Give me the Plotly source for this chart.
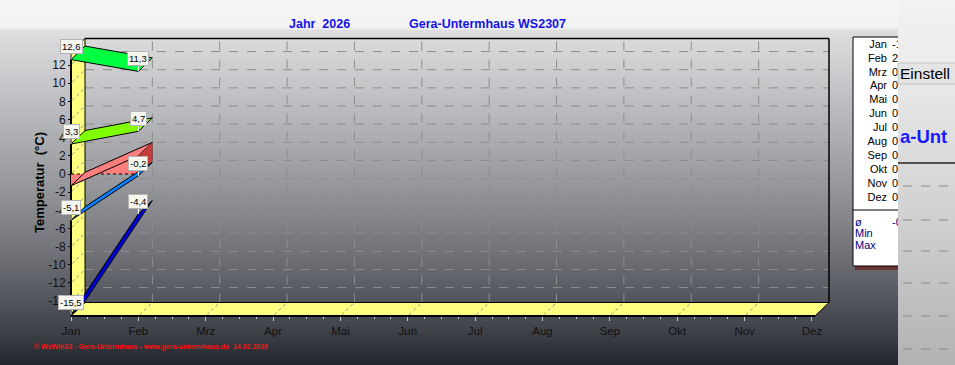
import plotly.graph_objects as go

# ---------------- data ----------------
months = ["Jan", "Feb", "Mrz", "Apr", "Mai", "Jun", "Jul", "Aug", "Sep", "Okt", "Nov", "Dez"]
obs_idx = [0, 1]                      # months with data (Jan, Feb)
t_max = [12.6, 11.3]                  # absolute maximum
t_max_avg = [3.3, 4.7]                # mean maximum
t_mean = [-1.3, 2.0]                  # mean temperature
t_min_avg = [-5.1, -0.2]              # mean minimum
t_min = [-15.5, -4.4]                 # absolute minimum
y_ticks = [-14, -12, -10, -8, -6, -4, -2, 0, 2, 4, 6, 8, 10, 12]
legend_values = ["-1,3", "2,0", "0,0", "0,0", "0,0", "0,0", "0,0", "0,0", "0,0", "0,0", "0,0", "0,0"]
summary_labels = ["ø", "Min", "Max"]
summary_values = ["-0,3", "", ""]

# ---------------- geometry helpers (pixel -> data) ----------------
W, H = 955, 365
X0PX, PXM = 71.0, 67.36      # x pixel of Jan, pixels per month
Y0PX, PXD = 174.0, 9.08      # y pixel of 0 °C, pixels per degree
CLIPX = 898                  # left edge of the overlapping window


def dx(px):
    return (px - X0PX) / PXM


def dy(py):
    return (Y0PX - py) / PXD


DX = 14.0 / PXM
DY = 13.5 / PXD
YTOP = dy(52)
YBOT = dy(316)
XEND = dx(815)

fig = go.Figure()
shapes = []


def lerp(c1, c2, t):
    return tuple(int(round(a + (b - a) * t)) for a, b in zip(c1, c2))


def grad(stops, p):
    for (p1, c1), (p2, c2) in zip(stops, stops[1:]):
        if p1 <= p <= p2:
            return lerp(c1, c2, (p - p1) / (p2 - p1) if p2 > p1 else 0)
    return stops[-1][1]


bg_stops = [(0, (245, 245, 245)), (27, (243, 243, 243)), (31, (222, 222, 224)),
            (100, (190, 191, 194)), (180, (152, 154, 158)), (260, (108, 110, 116)),
            (330, (64, 66, 74)), (365, (36, 38, 46))]
step = 3
for py in range(0, H, step):
    c = grad(bg_stops, py + step / 2)
    shapes.append(dict(type="rect", xref="x", yref="y", layer="below",
                       x0=dx(-2), x1=dx(W + 2), y0=dy(py), y1=dy(py + step + 0.6),
                       fillcolor="rgb(%d,%d,%d)" % c, line=dict(width=0)))

# grid on back wall
gcol = "#8e8e8e"
for v in y_ticks:
    shapes.append(dict(type="line", xref="x", yref="y", layer="below",
                       x0=DX, x1=XEND + DX, y0=v + DY, y1=v + DY,
                       line=dict(color=gcol, width=1, dash="dash")))
for i in range(1, len(months) - 1):
    shapes.append(dict(type="line", xref="x", yref="y", layer="below",
                       x0=i + DX, x1=i + DX, y0=YBOT + DY, y1=YTOP + DY,
                       line=dict(color=gcol, width=1, dash="dash")))
# wall outline (top, right)
shapes.append(dict(type="line", xref="x", yref="y", layer="below",
                   x0=DX, x1=XEND + DX, y0=YTOP + DY, y1=YTOP + DY,
                   line=dict(color="black", width=1.5)))
shapes.append(dict(type="line", xref="x", yref="y", layer="below",
                   x0=XEND + DX, x1=XEND + DX, y0=YTOP + DY, y1=YBOT + DY,
                   line=dict(color="black", width=1.5)))

yellow = "#ffff80"
# floor
shapes.append(dict(type="path", xref="x", yref="y", layer="below",
                   path="M %f %f L %f %f L %f %f L %f %f Z" % (0, YBOT, DX, YBOT + DY, XEND + DX, YBOT + DY, XEND, YBOT),
                   fillcolor=yellow, line=dict(color="black", width=1)))
shapes.append(dict(type="line", xref="x", yref="y", layer="below",
                   x0=0, x1=XEND, y0=YBOT, y1=YBOT, line=dict(color="black", width=2)))
# left wall
shapes.append(dict(type="path", xref="x", yref="y", layer="below",
                   path="M %f %f L %f %f L %f %f L %f %f Z" % (0, YBOT, 0, YTOP, DX, YTOP + DY, DX, YBOT + DY),
                   fillcolor=yellow, line=dict(color="black", width=1)))
shapes.append(dict(type="line", xref="x", yref="y", layer="below",
                   x0=0, x1=0, y0=YBOT, y1=YTOP, line=dict(color="black", width=2)))
# depth grid marks on walls
for v in y_ticks:
    shapes.append(dict(type="line", xref="x", yref="y", layer="below",
                       x0=0.02, x1=DX - 0.02, y0=v + 0.15, y1=v + DY - 0.15,
                       line=dict(color="#909090", width=1, dash="dot")))
for i in range(1, len(months) - 1):
    shapes.append(dict(type="line", xref="x", yref="y", layer="below",
                       x0=i + 0.02, x1=i + DX - 0.02, y0=YBOT + 0.15, y1=YBOT + DY - 0.15,
                       line=dict(color="#909090", width=1, dash="dot")))

# legend box
shapes.append(dict(type="rect", xref="x", yref="y", layer="below",
                   x0=dx(855), x1=dx(960), y0=dy(265), y1=dy(270),
                   fillcolor="#6a3434", line=dict(width=0)))
shapes.append(dict(type="rect", xref="x", yref="y", layer="below",
                   x0=dx(853), x1=dx(960), y0=dy(37), y1=dy(266),
                   fillcolor="white", line=dict(color="black", width=1)))
shapes.append(dict(type="line", xref="x", yref="y", layer="below",
                   x0=dx(853), x1=dx(960), y0=dy(210), y1=dy(210),
                   line=dict(color="black", width=1)))


# ---------------- series ----------------
def ribbon(vals, color, name):
    xs = list(obs_idx) + [i + DX for i in reversed(obs_idx)] + [obs_idx[0]]
    ys = list(vals) + [v + DY for v in reversed(vals)] + [vals[0]]
    fig.add_trace(go.Scatter(x=xs, y=ys, mode="lines", fill="toself", fillcolor=color,
                             line=dict(color="black", width=1), name=name,
                             hoverinfo="skip", showlegend=False))


ribbon(t_max, "#00ff40", "Max")
ribbon(t_max_avg, "#80ff00", "Mittl. Max")

# mean as 3D area
a0, a1 = obs_idx[0], obs_idx[-1]
fig.add_trace(go.Scatter(x=[a0, a0, a1, a1, a0], y=[0, t_mean[0], t_mean[-1], 0, 0],
                         mode="lines", fill="toself", fillcolor="#ff7f7f",
                         line=dict(color="rgba(0,0,0,0)", width=0), hoverinfo="skip", showlegend=False))
fig.add_trace(go.Scatter(x=[a0, a1], y=[0, 0], mode="lines",
                         line=dict(color="black", width=1, dash="dot"), hoverinfo="skip", showlegend=False))
ribbon(t_mean, "#ff7f7f", "Mittel")
fig.add_trace(go.Scatter(x=[a1, a1, a1 + DX, a1 + DX, a1], y=[0, t_mean[-1], t_mean[-1] + DY, DY, 0],
                         mode="lines", fill="toself", fillcolor="#c43c3c",
                         line=dict(color="#602020", width=0.5), hoverinfo="skip", showlegend=False))

ribbon(t_min_avg, "#0a80ff", "Mittl. Min")
ribbon(t_min, "#0000c8", "Min")

# leader lines for the value labels
LOFF = 1.4
for series in (t_max, t_max_avg, t_min_avg, t_min):
    for i, v in zip(obs_idx, series):
        fig.add_trace(go.Scatter(x=[i, i], y=[v, v + LOFF - 0.5], mode="lines",
                                 line=dict(color="white", width=1), hoverinfo="skip", showlegend=False))

# legend texts (on a second subplot that is clipped where the overlapping window starts)
row_y = [45 + 13.9 * k for k in range(len(months))]
fig.add_trace(go.Scatter(x=[dx(887)] * len(months), y=[dy(p) for p in row_y], mode="text",
                         text=months, textposition="middle left",
                         textfont=dict(family="Liberation Sans", size=11, color="black"),
                         hoverinfo="skip", showlegend=False, xaxis="x2", yaxis="y2", cliponaxis=True))
fig.add_trace(go.Scatter(x=[dx(892)] * len(months), y=[dy(p) for p in row_y], mode="text",
                         text=[s.split(",")[0] for s in legend_values], textposition="middle right",
                         textfont=dict(family="Liberation Sans", size=11, color="black"),
                         hoverinfo="skip", showlegend=False, xaxis="x2", yaxis="y2", cliponaxis=True))
sum_y = [223, 234, 246]
fig.add_trace(go.Scatter(x=[dx(855)] * 3, y=[dy(p) for p in sum_y], mode="text",
                         text=summary_labels, textposition="middle right",
                         textfont=dict(family="Liberation Sans", size=11, color="#000080"),
                         hoverinfo="skip", showlegend=False, xaxis="x2", yaxis="y2", cliponaxis=True))
fig.add_trace(go.Scatter(x=[dx(892)] * 3, y=[dy(p) for p in sum_y], mode="text",
                         text=[s.split(",")[0] for s in summary_values], textposition="middle right",
                         textfont=dict(family="Liberation Sans", size=11, color="#000080"),
                         hoverinfo="skip", showlegend=False, xaxis="x2", yaxis="y2", cliponaxis=True))

# ---------------- overlay window (right edge) ----------------
ov_stops = [(0, (242, 242, 242)), (60, (236, 236, 236)), (200, (212, 212, 212)), (365, (178, 178, 178))]
for py in range(0, H, 5):
    c = grad(ov_stops, py + 2.5)
    shapes.append(dict(type="rect", xref="x", yref="y", layer="above",
                       x0=dx(CLIPX), x1=dx(W + 2), y0=dy(py), y1=dy(py + 5.6),
                       fillcolor="rgb(%d,%d,%d)" % c, line=dict(width=0)))
shapes.append(dict(type="rect", xref="x", yref="y", layer="above",
                   x0=dx(CLIPX), x1=dx(W + 2), y0=dy(63), y1=dy(84),
                   fillcolor="#e4e4e4", line=dict(color="#c4c4c4", width=1)))
shapes.append(dict(type="line", xref="x", yref="y", layer="above",
                   x0=dx(CLIPX), x1=dx(W + 2), y0=dy(163), y1=dy(163),
                   line=dict(color="#505050", width=2)))
for p in [186, 220, 251, 283, 316, 349]:
    shapes.append(dict(type="line", xref="x", yref="y", layer="above",
                       x0=dx(903), x1=dx(W + 2), y0=dy(p), y1=dy(p),
                       line=dict(color="#8a8a8a", width=1, dash="dash")))

# ---------------- annotations ----------------
ann = []


def fmt(v):
    return ("%.1f" % v).replace(".", ",")


for series in (t_max, t_max_avg, t_min_avg, t_min):
    for i, v in zip(obs_idx, series):
        ann.append(dict(x=i, y=v + LOFF, xref="x", yref="y", text=fmt(v), showarrow=False,
                        font=dict(family="Liberation Sans", size=9.5, color="black"),
                        bgcolor="#f6f6ee", bordercolor="#b4b4b4", borderwidth=1, borderpad=1))

ann.append(dict(x=dx(319), y=dy(24), xref="x", yref="y", text="<b>Jahr  2026</b>", showarrow=False,
                font=dict(family="Liberation Sans", size=12.5, color="#1414e8")))
ann.append(dict(x=dx(487), y=dy(24), xref="x", yref="y", text="<b>Gera-Untermhaus WS2307</b>", showarrow=False,
                font=dict(family="Liberation Sans", size=12.5, color="#1414e8")))
ann.append(dict(x=dx(39), y=dy(183), xref="x", yref="y", text="<b>Temperatur  (°C)</b>", showarrow=False,
                textangle=-90, font=dict(family="Liberation Sans", size=13, color="black")))
ann.append(dict(x=dx(32), y=dy(347), xref="x", yref="y", xanchor="left",
                text="<b>© WsWin32 - Gera-Untermhaus - www.gera-untermhaus.de  14.02.2026</b>", showarrow=False,
                font=dict(family="Liberation Sans", size=7, color="#ff1010")))
ann.append(dict(x=dx(898), y=dy(73), xref="x", yref="y", xanchor="left", text="Einstell",
                showarrow=False, font=dict(family="Liberation Sans", size=15.5, color="black")))
ann.append(dict(x=dx(898), y=dy(136), xref="x", yref="y", xanchor="left", text="<b>a-Unt</b>",
                showarrow=False, font=dict(family="Liberation Sans", size=18.5, color="#1a1aff")))

minor_vals = [i + k / 4 for i in range(len(months) - 1) for k in (1, 2, 3)]

fig.update_layout(
    width=W, height=H, autosize=False,
    margin=dict(l=0, r=0, t=0, b=0, pad=0),
    paper_bgcolor="#f2f2f2", plot_bgcolor="rgba(0,0,0,0)",
    shapes=shapes, annotations=ann, showlegend=False,
    xaxis=dict(range=[dx(0), dx(W)], tickmode="array", tickvals=list(range(len(months))), ticktext=months,
               anchor="free", position=(H - 316) / H, side="bottom",
               ticks="outside", ticklen=4, tickcolor="#c8c8c8", tickwidth=1,
               minor=dict(tickmode="array", tickvals=minor_vals, ticks="outside", ticklen=2, tickcolor="#c8c8c8"),
               tickfont=dict(family="Liberation Sans", size=11.5, color="#111111"),
               showgrid=False, zeroline=False, showline=False, fixedrange=True),
    yaxis=dict(range=[dy(H), dy(0)], tickmode="array", tickvals=y_ticks,
               ticktext=[str(v) for v in y_ticks],
               anchor="free", position=X0PX / W, side="left",
               ticks="outside", ticklen=3, tickcolor="black",
               tickfont=dict(family="Liberation Sans", size=12, color="#111111"),
               showgrid=False, zeroline=False, showline=False, fixedrange=True),
    xaxis2=dict(domain=[0, CLIPX / W], range=[dx(0), dx(CLIPX)], anchor="y2", visible=False, fixedrange=True),
    yaxis2=dict(domain=[0, 1], range=[dy(H), dy(0)], anchor="x2", visible=False, fixedrange=True),
)

fig.write_html("out.html")
